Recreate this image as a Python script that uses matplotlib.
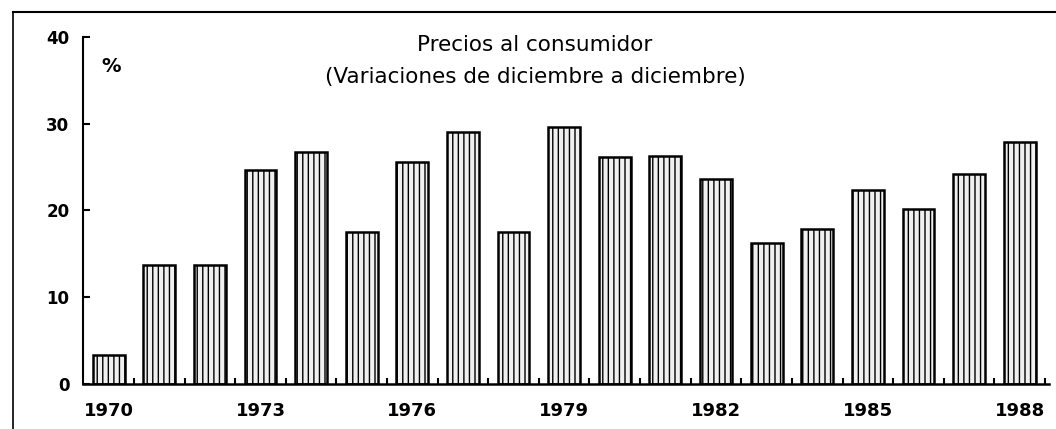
import matplotlib
matplotlib.use('Agg')
import matplotlib.pyplot as plt
from matplotlib.lines import Line2D

years = list(range(1970, 1989))
values = [3.3, 13.7, 13.7, 24.7, 26.7, 17.5, 25.6, 29.0, 17.5, 29.6,
          26.2, 26.3, 23.6, 16.2, 17.9, 22.4, 20.2, 24.2, 27.9]
label_years = [1970, 1973, 1976, 1979, 1982, 1985, 1988]
y_ticks = [0, 10, 20, 30, 40]

plt.rcParams['hatch.color'] = '#8a8a8a'
plt.rcParams['hatch.linewidth'] = 1.0

fig = plt.figure(figsize=(10.56, 4.29), dpi=100)
fig.patch.set_facecolor("white")
ax = fig.add_axes([0.0789, 0.1049, 0.9145, 0.8089])

ax.bar(years, values, width=0.63, facecolor="#f0f0f0",
       edgecolor="black", linewidth=1.8, hatch="|||")

ax.set_xlim(1969.5, 1988.58)
ax.set_ylim(0, 40)

ax.set_xticks(label_years)
ax.set_xticklabels([str(y) for y in label_years], fontsize=13, fontweight="bold")
ax.set_xticks([y + 0.5 for y in years], minor=True)
ax.tick_params(axis="x", which="major", length=0, pad=13)
ax.tick_params(axis="x", which="minor", direction="in", length=4, width=1.5)

ax.set_yticks(y_ticks)
ax.set_yticklabels([str(v) for v in y_ticks], fontsize=12, fontweight="bold")
ax.tick_params(axis="y", direction="in", length=5, width=1.5, pad=10)

ax.spines["top"].set_visible(False)
ax.spines["right"].set_visible(False)
ax.spines["left"].set_linewidth(1.5)
ax.spines["bottom"].set_linewidth(1.8)

ax.text(1970.05, 36.6, "%", fontsize=14, fontweight="bold", ha="center", va="center")

fig.text(0.5066, 0.895, "Precios al consumidor", fontsize=15.5, ha="center", va="center")
fig.text(0.5066, 0.82, "(Variaciones de diciembre a diciembre)", fontsize=15.5,
         ha="center", va="center")

# outer frame: top and left rules
fig.add_artist(Line2D([0.0123, 1.0], [0.971, 0.971], color="black", linewidth=1.5))
fig.add_artist(Line2D([0.0123, 0.0123], [0.0, 0.971], color="black", linewidth=1.2))

plt.savefig("out.png", dpi=100, facecolor="white")
plt.close()
